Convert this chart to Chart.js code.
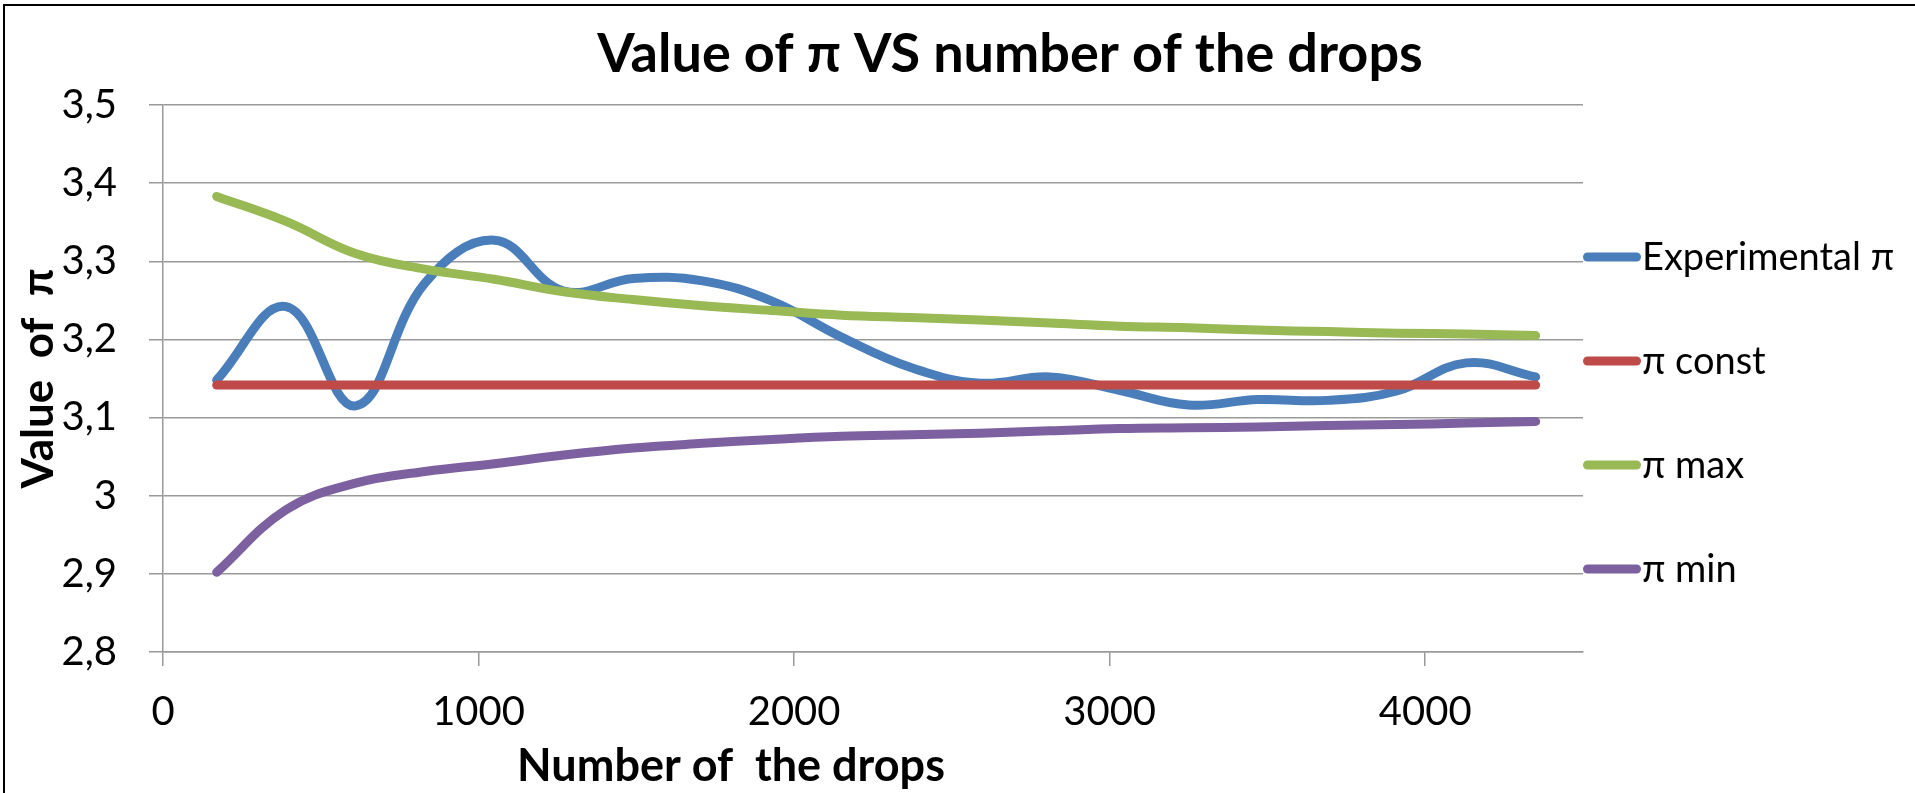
<!DOCTYPE html>
<html>
<head>
<meta charset="utf-8">
<script src="https://cdn.jsdelivr.net/npm/chart.js@4/dist/chart.umd.min.js"></script>
<style>
  html, body { margin: 0; padding: 0; background: #fff; overflow: hidden; }
  #frame { position: absolute; left: 3px; top: 4px; width: 1940px; height: 820px; border: 2px solid #000; box-sizing: border-box; }
  #c { position: absolute; left: 0; top: 0; }
</style>
</head>
<body>
<div id="frame"></div>
<canvas id="c" width="1915" height="793"></canvas>
<script>
	// ******************************************************** DATA

	var drops          = [170, 390, 610, 830, 1050, 1270, 1490, 1710, 1930, 2150, 2370, 2590, 2810, 3030, 3250, 3470, 3690, 3910, 4130, 4350];
	var piExperimental = [3.148, 3.242, 3.115, 3.272, 3.327, 3.262, 3.278, 3.275, 3.249, 3.203, 3.164, 3.144, 3.152, 3.135, 3.116, 3.123, 3.122, 3.134, 3.170, 3.152];
	var piConst        = [3.1416, 3.1416, 3.1416, 3.1416, 3.1416, 3.1416, 3.1416, 3.1416, 3.1416, 3.1416, 3.1416, 3.1416, 3.1416, 3.1416, 3.1416, 3.1416, 3.1416, 3.1416, 3.1416, 3.1416];
	var piMax          = [3.383, 3.351, 3.310, 3.290, 3.277, 3.261, 3.251, 3.243, 3.237, 3.231, 3.228, 3.225, 3.221, 3.217, 3.215, 3.212, 3.210, 3.208, 3.207, 3.205];
	var piMin          = [2.902, 2.982, 3.016, 3.031, 3.041, 3.052, 3.061, 3.067, 3.072, 3.076, 3.078, 3.080, 3.083, 3.086, 3.087, 3.088, 3.090, 3.091, 3.093, 3.095];

	var seriesNames  = ["Experimental π", "π const", "π max", "π min"];
	var seriesColors = ["#4a7ebb", "#be4b48", "#98b954", "#7d60a0"];
	var xTicks       = [0, 1000, 2000, 3000, 4000];

	function points(values) {
		return drops.map(function (d, i) { return { x: d, y: values[i] }; });
	}

	// ******************************************************** TITLES + LEGEND

	var sideText = {
		id: 'sideText',
		afterDraw: function (chart) {
			var ctx = chart.ctx, area = chart.chartArea;
			ctx.save();
			ctx.fillStyle = '#000';
			ctx.textBaseline = 'alphabetic';
			ctx.textAlign = 'center';

			ctx.font = 'bold 54px Lato';
			ctx.fillText('Value of π VS number of the drops', 1010, 72);

			ctx.font = 'bold 45px Lato';
			ctx.fillText('Number of  the drops', area.left + 0.4 * (area.right - area.left), 781);

			ctx.font = '38px Lato';
			ctx.textAlign = 'left';
			chart.data.datasets.forEach(function (ds, i) {
				var y = 257 + i * 104;
				ctx.strokeStyle = ds.borderColor;
				ctx.lineWidth = 9;
				ctx.lineCap = 'round';
				ctx.beginPath();
				ctx.moveTo(area.right + 4.5, y);
				ctx.lineTo(area.right + 53.5, y);
				ctx.stroke();
				ctx.fillText(ds.label, area.right + 59, y + 13);
			});
			ctx.restore();
		}
	};

	// ******************************************************** CHART

	var config = {
		type: 'line',
		data: {
			datasets: [
				{ label: seriesNames[0], data: points(piExperimental), borderColor: seriesColors[0], order: 4 },
				{ label: seriesNames[1], data: points(piConst),        borderColor: seriesColors[1], order: 3 },
				{ label: seriesNames[2], data: points(piMax),          borderColor: seriesColors[2], order: 2 },
				{ label: seriesNames[3], data: points(piMin),          borderColor: seriesColors[3], order: 1 }
			]
		},
		options: {
			responsive: false,
			animation: false,
			layout: { padding: { left: 0, right: 332, top: 105, bottom: 0 } },
			elements: {
				point: { radius: 0 },
				line: { borderWidth: 9, tension: 0.4, borderCapStyle: 'round', borderJoinStyle: 'round', fill: false }
			},
			plugins: {
				legend: { display: false },
				tooltip: { enabled: false },
				title: { display: false }
			},
			scales: {
				x: {
					type: 'linear',
					min: 0,
					max: 4500,
					afterBuildTicks: function (s) { s.ticks = xTicks.map(function (v) { return { value: v }; }); },
					ticks: {
						color: '#000',
						font: { family: 'Lato', size: 40 },
						padding: 22,
						callback: function (v) { return String(v); }
					},
					grid: { drawOnChartArea: false, drawTicks: true, tickLength: 14, color: '#999', lineWidth: 1.5 },
					border: { color: '#999', width: 1.5 },
					afterFit: function (s) { s.height = 141; }
				},
				y: {
					min: 2.8,
					max: 3.5,
					ticks: {
						stepSize: 0.1,
						color: '#000',
						font: { family: 'Lato', size: 40 },
						padding: 32,
						callback: function (v) { return String(parseFloat(v.toFixed(1))).replace('.', ','); }
					},
					grid: { color: '#999', lineWidth: 1.5, tickLength: 14 },
					border: { color: '#999', width: 1.5 },
					title: {
						display: true,
						text: 'Value  of  π',
						color: '#000',
						font: { family: 'Lato', size: 44, weight: 'bold' },
						padding: { top: 12, bottom: 0 }
					},
					afterFit: function (s) { s.width = 163; }
				}
			}
		},
		plugins: [sideText]
	};

	var _ctxc = document.getElementById("c").getContext("2d");
	window.piChart = new Chart(_ctxc, config);
</script>
</body>
</html>
